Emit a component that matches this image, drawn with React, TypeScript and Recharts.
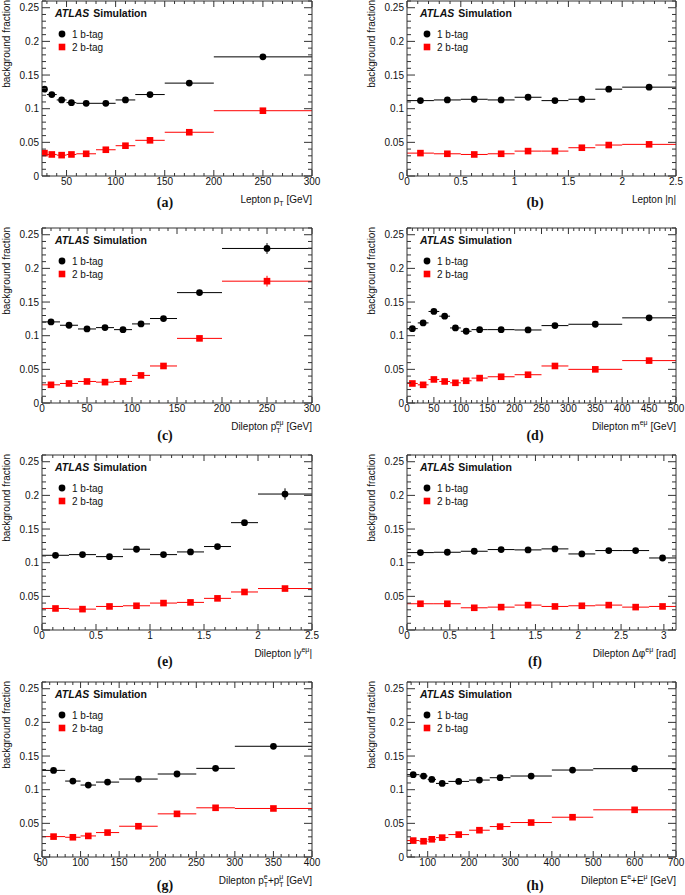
import React from 'react';
import { ComposedChart, Scatter, XAxis, YAxis, ErrorBar } from 'recharts';

const FONT = '"Liberation Sans", Arial, Helvetica, sans-serif';
const SERIF = '"Liberation Serif", "Times New Roman", serif';
const AX = '#333';
const TXT = '#111';

// (a) lepton pT
const lepPtEdges = [25, 30, 40, 50, 60, 80, 100, 120, 150, 200, 300];
const lepPt1b = [0.129, 0.121, 0.113, 0.109, 0.108, 0.108, 0.113, 0.121, 0.138, 0.177];
const lepPt2b = [0.034, 0.032, 0.031, 0.032, 0.033, 0.039, 0.045, 0.053, 0.065, 0.097];
const lepPtTicks = [50, 100, 150, 200, 250, 300];

// (b) lepton |eta|
const lepEtaEdges = [0, 0.25, 0.5, 0.75, 1, 1.25, 1.5, 1.75, 2, 2.5];
const lepEta1b = [0.112, 0.113, 0.114, 0.113, 0.117, 0.112, 0.114, 0.129, 0.132];
const lepEta2b = [0.034, 0.033, 0.032, 0.033, 0.037, 0.037, 0.042, 0.046, 0.047];
const etaTicks = [0, 0.5, 1, 1.5, 2, 2.5];

// (c) dilepton pT
const dilPtEdges = [0, 20, 40, 60, 80, 100, 120, 150, 200, 300];
const dilPt1b = [0.1205, 0.1155, 0.11, 0.112, 0.109, 0.1175, 0.1255, 0.164, 0.2296];
const dilPt2b = [0.027, 0.029, 0.032, 0.031, 0.032, 0.041, 0.055, 0.096, 0.181];
const dilPt1bErr = [0, 0, 0, 0, 0, 0, 0, 0.002, 0.008];
const dilPt2bErr = [0, 0, 0, 0, 0, 0, 0, 0.002, 0.008];
const dilPtTicks = [0, 50, 100, 150, 200, 250, 300];

// (d) dilepton mass
const dilMassEdges = [0, 20, 40, 60, 80, 100, 120, 150, 200, 250, 300, 400, 500];
const dilMass1b = [0.1105, 0.119, 0.136, 0.129, 0.1115, 0.1066, 0.109, 0.109, 0.1085, 0.115, 0.117, 0.1265];
const dilMass2b = [0.029, 0.027, 0.035, 0.032, 0.03, 0.033, 0.037, 0.039, 0.042, 0.055, 0.05, 0.063];
const dilMassTicks = [0, 50, 100, 150, 200, 250, 300, 350, 400, 450, 500];

// (e) dilepton |y|
const dilRapEdges = [0, 0.25, 0.5, 0.75, 1, 1.25, 1.5, 1.75, 2, 2.5];
const dilRap1b = [0.111, 0.112, 0.109, 0.12, 0.112, 0.116, 0.124, 0.1595, 0.202];
const dilRap2b = [0.032, 0.031, 0.035, 0.036, 0.04, 0.041, 0.047, 0.0565, 0.0616];
const dilRap1bErr = [0, 0, 0, 0, 0, 0, 0, 0.002, 0.0085];
const dilRap2bErr = [0, 0, 0, 0, 0, 0, 0, 0, 0.002];

// (f) dilepton delta phi
const dPhiEdges = [0, 0.3142, 0.6283, 0.9425, 1.2566, 1.5708, 1.885, 2.1991, 2.5133, 2.8274, 3.1416];
const dPhi1b = [0.115, 0.1155, 0.117, 0.1195, 0.119, 0.1205, 0.113, 0.118, 0.118, 0.107];
const dPhi2b = [0.039, 0.039, 0.033, 0.034, 0.037, 0.035, 0.036, 0.037, 0.034, 0.035];
const dPhiTicks = [0, 0.5, 1, 1.5, 2, 2.5, 3];

// (g) pT sum
const ptSumEdges = [50, 80, 100, 120, 150, 200, 250, 300, 400];
const ptSum1b = [0.1287, 0.1128, 0.1069, 0.1113, 0.1158, 0.1233, 0.1317, 0.1645];
const ptSum2b = [0.0303, 0.0293, 0.0313, 0.0363, 0.0457, 0.0641, 0.0731, 0.0721];
const ptSumTicks = [50, 100, 150, 200, 250, 300, 350, 400];

// (h) energy sum
const eSumEdges = [50, 80, 100, 120, 150, 200, 250, 300, 400, 500, 700];
const eSum1b = [0.1223, 0.1203, 0.1153, 0.1093, 0.1123, 0.1143, 0.1178, 0.1203, 0.1292, 0.1312];
const eSum2b = [0.0244, 0.0234, 0.0263, 0.0288, 0.0333, 0.0398, 0.0452, 0.0512, 0.0591, 0.0701];
const eSumTicks = [100, 200, 300, 400, 500, 600, 700];

const yMajor = [0, 0.05, 0.1, 0.15, 0.2, 0.25];
const yDomain: [number, number] = [0, 0.26];

const colX = [0, 343];
const yAxisW = [42, 64];
const chartW = [340, 342];
const marginRight = [28, 9];
const yTitleX = [9.5, 31.5];
const labelX = [165, 192];
const rowY = [0, 227, 454, 681];
const labelDy = [30.5, 37, 35.5, 33];
const TOP = 1;
const PLOT_H = 175;
const CHART_H = 214;

function stepTicks(lo: number, hi: number, step: number) {
  const out: number[] = [];
  for (let i = Math.ceil(lo / step - 1e-9); i * step <= hi + 1e-9; i++) {
    out.push(Math.round(i * step * 1e6) / 1e6);
  }
  return out;
}
const isMajor = (v: number, majors: number[]) => majors.some((m) => Math.abs(m - v) < 1e-6);
const fmt = (v: number) => String(Math.round(v * 1000) / 1000);

function toPoints(edges: number[], vals: number[], errs?: number[]) {
  return vals.map((y, i) => {
    const lo = edges[i];
    const hi = edges[i + 1];
    const x = (lo + hi) / 2;
    return { x, y, xErr: [x - lo, hi - x], yErr: errs ? errs[i] : 0 };
  });
}

const circle = (p: any) => <circle cx={p.cx} cy={p.cy} r={3.4} fill="#000" />;
const square = (p: any) => <rect x={p.cx - 3.3} y={p.cy - 3.3} width={6.6} height={6.6} fill="#f00" />;

const textProps = { fontSize: 10, fill: TXT, fontFamily: FONT };

// left axis ticks, mirrored onto the right edge of the frame
const leftTick = (majors: number[], plotW: number) => (p: any) => {
  const v = p.payload.value;
  const maj = isMajor(v, majors);
  const len = maj ? 8 : 4;
  return (
    <g>
      <line x1={p.x} x2={p.x + len} y1={p.y} y2={p.y} stroke={AX} strokeWidth={1} />
      <line x1={p.x + plotW} x2={p.x + plotW - len} y1={p.y} y2={p.y} stroke={AX} strokeWidth={1} />
      {maj && (
        <text x={p.x - 3} y={p.y} dy="0.35em" textAnchor="end" {...textProps}>{fmt(v)}</text>
      )}
    </g>
  );
};
// bottom axis ticks, mirrored onto the top edge of the frame
const bottomTick = (majors: number[]) => (p: any) => {
  const v = p.payload.value;
  const maj = isMajor(v, majors);
  const len = maj ? 6 : 3;
  return (
    <g>
      <line x1={p.x} x2={p.x} y1={p.y} y2={p.y - len} stroke={AX} strokeWidth={1} />
      <line x1={p.x} x2={p.x} y1={p.y - PLOT_H} y2={p.y - PLOT_H + len} stroke={AX} strokeWidth={1} />
      {maj && (
        <text x={p.x} y={p.y + 9} textAnchor="middle" {...textProps}>{fmt(v)}</text>
      )}
    </g>
  );
};

interface PanelProps {
  col: number;
  row: number;
  xDomain: [number, number];
  xMajor: number[];
  xMinor: number;
  edges: number[];
  one: number[];
  two: number[];
  oneErr?: number[];
  twoErr?: number[];
  title: React.ReactNode;
  label: string;
}

function Panel({ col, row, xDomain, xMajor, xMinor, edges, one, two, oneErr, twoErr, title, label }: PanelProps) {
  const pts1 = toPoints(edges, one, oneErr);
  const pts2 = toPoints(edges, two, twoErr);
  const xTicks = stepTicks(xDomain[0], xDomain[1], xMinor);
  const yTicks = stepTicks(0, 0.26, 0.01);
  const pl = yAxisW[col];
  const pr = chartW[col] - marginRight[col];
  const pb = TOP + PLOT_H;
  return (
    <div style={{ position: 'absolute', left: colX[col], top: rowY[row], width: chartW[col], height: 226 }}>
      <ComposedChart width={chartW[col]} height={CHART_H}
        margin={{ top: TOP - 1, right: marginRight[col] - 1, bottom: CHART_H - TOP - PLOT_H - 1, left: 0 }}>
        <XAxis xAxisId="b" type="number" dataKey="x" domain={xDomain} ticks={xTicks} interval={0}
          allowDataOverflow tick={bottomTick(xMajor)} tickLine={false} tickSize={0} tickMargin={0}
          height={1} axisLine={{ stroke: AX }} />
        <XAxis xAxisId="t" orientation="top" type="number" dataKey="x" domain={xDomain}
          allowDataOverflow tick={false} tickLine={false} height={1} axisLine={{ stroke: AX }} />
        <YAxis yAxisId="l" type="number" dataKey="y" domain={yDomain} ticks={yTicks} interval={0}
          allowDataOverflow tick={leftTick(yMajor, pr - pl)} tickLine={false} tickSize={0} tickMargin={0}
          width={pl} axisLine={{ stroke: AX }} />
        <YAxis yAxisId="r" orientation="right" type="number" dataKey="y" domain={yDomain}
          allowDataOverflow tick={false} tickLine={false} width={1} axisLine={{ stroke: AX }} />
        <Scatter xAxisId="b" yAxisId="l" data={pts2} shape={square} isAnimationActive={false}>
          <ErrorBar dataKey="xErr" direction="x" width={0} stroke="#f00" strokeWidth={1} isAnimationActive={false} />
          <ErrorBar dataKey="yErr" direction="y" width={0} stroke="#f00" strokeWidth={1} isAnimationActive={false} />
        </Scatter>
        <Scatter xAxisId="b" yAxisId="l" data={pts1} shape={circle} isAnimationActive={false}>
          <ErrorBar dataKey="xErr" direction="x" width={0} stroke="#000" strokeWidth={1} isAnimationActive={false} />
          <ErrorBar dataKey="yErr" direction="y" width={0} stroke="#000" strokeWidth={1} isAnimationActive={false} />
        </Scatter>
      </ComposedChart>
      <svg width={chartW[col]} height={226} style={{ position: 'absolute', left: 0, top: 0, pointerEvents: 'none' }}>
        <text transform={`translate(${yTitleX[col]},${TOP - 1}) rotate(-90)`} textAnchor="end" {...textProps}>
          background fraction
        </text>
        <text x={pl + 13} y={TOP + 15.5} fontSize={10.5} fontFamily={FONT} fill={TXT} fontWeight="bold">
          <tspan fontStyle="italic">ATLAS</tspan>
          <tspan dx={4}>Simulation</tspan>
        </text>
        <circle cx={pl + 20} cy={TOP + 33} r={3.4} fill="#000" />
        <text x={pl + 30} y={TOP + 36.5} {...textProps}>1 b-tag</text>
        <rect x={pl + 16.7} y={TOP + 42.7} width={6.6} height={6.6} fill="#f00" />
        <text x={pl + 30} y={TOP + 49.5} {...textProps}>2 b-tag</text>
        <text x={pr} y={pb + 27} textAnchor="end" {...textProps}>{title}</text>
        <text x={labelX[col]} y={pb + labelDy[row]} textAnchor="middle" fontSize={14} fontWeight="bold"
          fontFamily={SERIF} fill={TXT}>{label}</text>
      </svg>
    </div>
  );
}

const S = 7;

export default function App() {
  return (
    <div style={{ position: 'absolute', left: 0, top: 0, width: 685, height: 895, overflow: 'hidden', background: '#fff' }}>
      <Panel col={0} row={0} xDomain={[25, 300]} xMajor={lepPtTicks} xMinor={10}
        edges={lepPtEdges} one={lepPt1b} two={lepPt2b} label="(a)"
        title={<>Lepton p<tspan dy={3} fontSize={S}>T</tspan><tspan dy={-3}> [GeV]</tspan></>} />
      <Panel col={1} row={0} xDomain={[0, 2.5]} xMajor={etaTicks} xMinor={0.1}
        edges={lepEtaEdges} one={lepEta1b} two={lepEta2b} label="(b)"
        title={<>Lepton |η|</>} />
      <Panel col={0} row={1} xDomain={[0, 300]} xMajor={dilPtTicks} xMinor={10}
        edges={dilPtEdges} one={dilPt1b} two={dilPt2b} oneErr={dilPt1bErr} twoErr={dilPt2bErr} label="(c)"
        title={<>Dilepton p<tspan dy={3} fontSize={S}>T</tspan><tspan dy={-8} dx={-4} fontSize={S}>eμ</tspan><tspan dy={5}> [GeV]</tspan></>} />
      <Panel col={1} row={1} xDomain={[0, 500]} xMajor={dilMassTicks} xMinor={10}
        edges={dilMassEdges} one={dilMass1b} two={dilMass2b} label="(d)"
        title={<>Dilepton m<tspan dy={-5} fontSize={S}>eμ</tspan><tspan dy={5}> [GeV]</tspan></>} />
      <Panel col={0} row={2} xDomain={[0, 2.5]} xMajor={etaTicks} xMinor={0.1}
        edges={dilRapEdges} one={dilRap1b} two={dilRap2b} oneErr={dilRap1bErr} twoErr={dilRap2bErr} label="(e)"
        title={<>Dilepton |y<tspan dy={-5} fontSize={S}>eμ</tspan><tspan dy={5}>|</tspan></>} />
      <Panel col={1} row={2} xDomain={[0, Math.PI]} xMajor={dPhiTicks} xMinor={0.1}
        edges={dPhiEdges} one={dPhi1b} two={dPhi2b} label="(f)"
        title={<>Dilepton Δφ<tspan dy={-5} fontSize={S}>eμ</tspan><tspan dy={5}> [rad]</tspan></>} />
      <Panel col={0} row={3} xDomain={[50, 400]} xMajor={ptSumTicks} xMinor={10}
        edges={ptSumEdges} one={ptSum1b} two={ptSum2b} label="(g)"
        title={<>Dilepton p<tspan dy={-5} fontSize={S}>e</tspan><tspan dy={8} dx={-4} fontSize={S}>T</tspan><tspan dy={-3}>+p</tspan><tspan dy={-5} fontSize={S}>μ</tspan><tspan dy={8} dx={-4} fontSize={S}>T</tspan><tspan dy={-3}> [GeV]</tspan></>} />
      <Panel col={1} row={3} xDomain={[50, 700]} xMajor={eSumTicks} xMinor={20}
        edges={eSumEdges} one={eSum1b} two={eSum2b} label="(h)"
        title={<>Dilepton E<tspan dy={-5} fontSize={S}>e</tspan><tspan dy={5}>+E</tspan><tspan dy={-5} fontSize={S}>μ</tspan><tspan dy={5}> [GeV]</tspan></>} />
    </div>
  );
}
